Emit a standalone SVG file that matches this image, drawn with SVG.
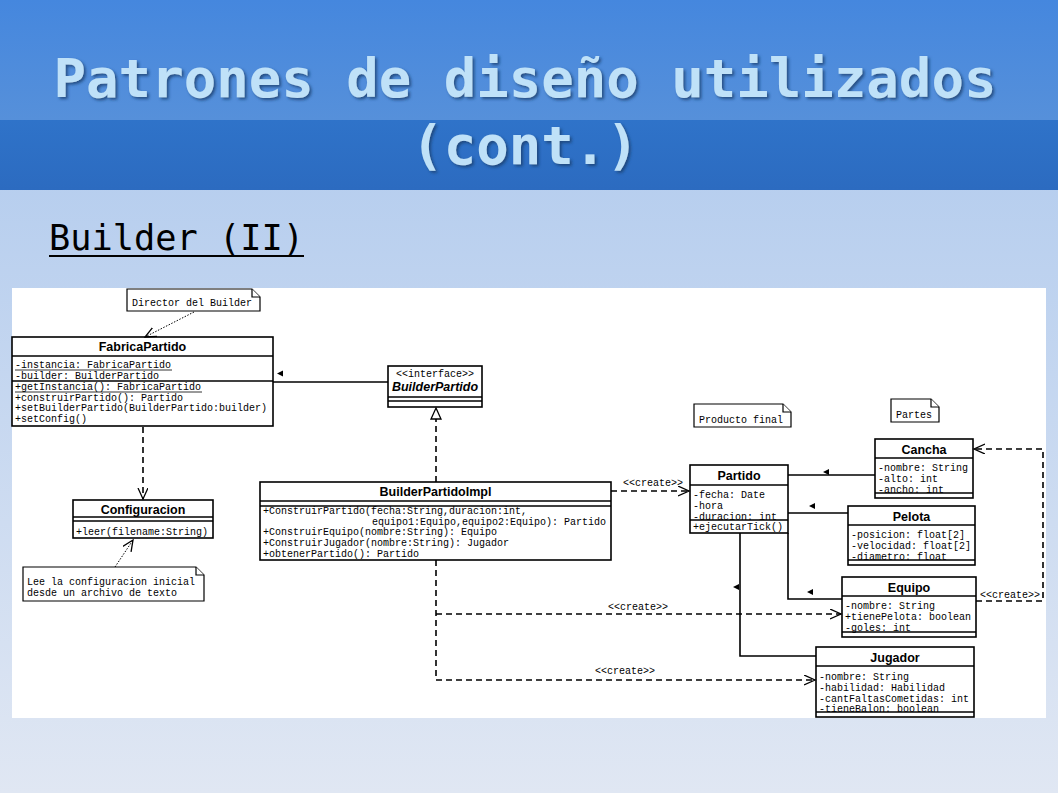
<svg xmlns="http://www.w3.org/2000/svg" width="1058" height="793" viewBox="0 0 1058 793">
<defs>
<linearGradient id="bg" x1="0" y1="0" x2="0" y2="1">
<stop offset="0" stop-color="#abc7ed"/>
<stop offset="1" stop-color="#e0e7f3"/>
</linearGradient>
<linearGradient id="hd1" x1="0" y1="0" x2="0" y2="1">
<stop offset="0" stop-color="#4587de"/>
<stop offset="1" stop-color="#5690da"/>
</linearGradient>
<linearGradient id="hd2" x1="0" y1="0" x2="0" y2="1">
<stop offset="0" stop-color="#2f73c9"/>
<stop offset="1" stop-color="#2c6bc0"/>
</linearGradient>
<filter id="sh" x="-5%" y="-20%" width="110%" height="140%">
<feDropShadow dx="2" dy="2" stdDeviation="1.5" flood-color="#1a3d6e" flood-opacity="0.8"/>
</filter>
<marker id="open" markerUnits="userSpaceOnUse" markerWidth="14" markerHeight="12" refX="11" refY="5" orient="auto">
<path d="M0,0 L11,5 L0,10" fill="none" stroke="#000" stroke-width="1.3"/>
</marker>
</defs>
<style>
.box{fill:#fff;stroke:#000;stroke-width:1.6}
.sep{stroke:#000;stroke-width:1.4}
.ttl{font-family:"Liberation Sans",Arial,sans-serif;font-weight:bold;font-size:12.5px;text-anchor:middle}
.mono{font-family:"Liberation Mono","Courier New",monospace;font-size:10px}
.note{fill:#fff;stroke:#000;stroke-width:1.2}
.ln{fill:none;stroke:#000;stroke-width:1.6}
.dash{fill:none;stroke:#000;stroke-width:1.6;stroke-dasharray:6,4}
.dot{fill:none;stroke:#000;stroke-width:1;stroke-dasharray:1.5,1.5}
.tri{fill:#000}
</style>
<rect x="0" y="0" width="1058" height="793" fill="url(#bg)"/>
<rect x="0" y="0" width="1058" height="120" fill="url(#hd1)"/>
<rect x="0" y="120" width="1058" height="70" fill="url(#hd2)"/>
<g filter="url(#sh)" font-family="'DejaVu Sans Mono',monospace" font-weight="bold" font-size="54" fill="#bfe1f8" text-anchor="middle">
<text x="525" y="97">Patrones de diseño utilizados</text>
<text x="525" y="164">(cont.)</text>
</g>
<text x="49" y="250" font-family="'DejaVu Sans Mono',monospace" font-size="35.3" fill="#000">Builder (II)</text>
<rect x="49" y="255" width="255" height="2" fill="#000"/>
<rect x="12" y="288" width="1034" height="430" fill="#fff"/>

<g id="note-director">
<path class="note" d="M127,289 H252 L260,297 V311 H127 Z"/>
<path class="note" d="M252,289 V297 H260"/>
<text class="mono" x="132" y="306">Director del Builder</text>
</g>

<g id="FabricaPartido">
<rect class="box" x="12" y="337" width="261" height="89"/>
<line class="sep" x1="12" y1="356" x2="273" y2="356"/>
<line class="sep" x1="12" y1="381" x2="273" y2="381"/>
<text class="ttl" x="142.5" y="351">FabricaPartido</text>
<text class="mono" x="15" y="368">-instancia: FabricaPartido</text>
<line x1="15" y1="370" x2="172" y2="370" stroke="#000" stroke-width="0.8"/>
<text class="mono" x="15" y="379">-builder: BuilderPartido</text>
<text class="mono" x="15" y="390">+getInstancia(): FabricaPartido</text>
<line x1="15" y1="392" x2="202" y2="392" stroke="#000" stroke-width="0.8"/>
<text class="mono" x="15" y="401">+construirPartido(): Partido</text>
<text class="mono" x="15" y="411">+setBuilderPartido(BuilderPartido:builder)</text>
<text class="mono" x="15" y="422">+setConfig()</text>
</g>

<g id="BuilderPartido">
<rect class="box" x="388" y="366" width="94" height="41"/>
<line class="sep" x1="388" y1="397" x2="482" y2="397"/>
<line class="sep" x1="388" y1="401" x2="482" y2="401"/>
<text class="mono" x="435" y="377" text-anchor="middle">&lt;&lt;interface&gt;&gt;</text>
<text class="ttl" x="435" y="391" font-style="italic">BuilderPartido</text>
</g>

<g id="BuilderPartidoImpl">
<rect class="box" x="260" y="482" width="351" height="78"/>
<line class="sep" x1="260" y1="501" x2="611" y2="501"/>
<line class="sep" x1="260" y1="506" x2="611" y2="506"/>
<text class="ttl" x="435.5" y="496">BuilderPartidoImpl</text>
<text class="mono" x="263" y="514">+ConstruirPartido(fecha:String,duracion:int,</text>
<text class="mono" x="372" y="524.5">equipo1:Equipo,equipo2:Equipo): Partido</text>
<text class="mono" x="263" y="535">+ConstruirEquipo(nombre:String): Equipo</text>
<text class="mono" x="263" y="546">+ConstruirJugador(nombre:String): Jugador</text>
<text class="mono" x="263" y="557">+obtenerPartido(): Partido</text>
</g>

<g id="Configuracion">
<rect class="box" x="73" y="500" width="140" height="38"/>
<line class="sep" x1="73" y1="517" x2="213" y2="517"/>
<line class="sep" x1="73" y1="521" x2="213" y2="521"/>
<text class="ttl" x="143" y="514">Configuracion</text>
<text class="mono" x="76" y="535">+leer(filename:String)</text>
</g>

<g id="note-config">
<path class="note" d="M23,567 H196 L204,575 V601 H23 Z"/>
<path class="note" d="M196,567 V575 H204"/>
<text class="mono" x="27" y="585">Lee la configuracion inicial</text>
<text class="mono" x="27" y="596">desde un archivo de texto</text>
</g>

<g id="note-producto">
<path class="note" d="M694,404 H783 L791,412 V427 H694 Z"/>
<path class="note" d="M783,404 V412 H791"/>
<text class="mono" x="699" y="423">Producto final</text>
</g>

<g id="note-partes">
<path class="note" d="M891,399 H931 L939,407 V422 H891 Z"/>
<path class="note" d="M931,399 V407 H939"/>
<text class="mono" x="896" y="418">Partes</text>
</g>

<g id="Partido">
<rect class="box" x="690" y="465" width="98" height="68"/>
<line class="sep" x1="690" y1="485" x2="788" y2="485"/>
<line class="sep" x1="690" y1="520" x2="788" y2="520"/>
<text class="ttl" x="739" y="480">Partido</text>
<text class="mono" x="693" y="497.5">-fecha: Date</text>
<text class="mono" x="693" y="508.5">-hora</text>
<text class="mono" x="693" y="519.5">-duracion: int</text>
<text class="mono" x="693" y="530">+ejecutarTick()</text>
</g>

<g id="Cancha">
<rect class="box" x="875" y="439" width="98" height="59"/>
<line class="sep" x1="875" y1="458" x2="973" y2="458"/>
<line class="sep" x1="875" y1="493" x2="973" y2="493"/>
<text class="ttl" x="924" y="454">Cancha</text>
<text class="mono" x="878" y="471">-nombre: String</text>
<text class="mono" x="878" y="482">-alto: int</text>
<text class="mono" x="878" y="493">-ancho: int</text>
</g>

<g id="Pelota">
<rect class="box" x="848" y="506" width="127" height="59"/>
<line class="sep" x1="848" y1="525" x2="975" y2="525"/>
<line class="sep" x1="848" y1="560" x2="975" y2="560"/>
<text class="ttl" x="911.5" y="521">Pelota</text>
<text class="mono" x="851" y="538">-posicion: float[2]</text>
<text class="mono" x="851" y="549">-velocidad: float[2]</text>
<text class="mono" x="851" y="560">-diametro: float</text>
</g>

<g id="Equipo">
<rect class="box" x="842" y="577" width="134" height="60"/>
<line class="sep" x1="842" y1="596" x2="976" y2="596"/>
<line class="sep" x1="842" y1="632" x2="976" y2="632"/>
<text class="ttl" x="909" y="592">Equipo</text>
<text class="mono" x="845" y="609">-nombre: String</text>
<text class="mono" x="845" y="620">+tienePelota: boolean</text>
<text class="mono" x="845" y="631">-goles: int</text>
</g>

<g id="Jugador">
<rect class="box" x="816" y="647" width="158" height="70"/>
<line class="sep" x1="816" y1="666" x2="974" y2="666"/>
<line class="sep" x1="816" y1="712" x2="974" y2="712"/>
<text class="ttl" x="895" y="662">Jugador</text>
<text class="mono" x="819" y="680">-nombre: String</text>
<text class="mono" x="819" y="691">-habilidad: Habilidad</text>
<text class="mono" x="819" y="702">-cantFaltasCometidas: int</text>
<text class="mono" x="819" y="712">-tieneBalon: boolean</text>
</g>

<g id="connectors">
<path class="dot" d="M194,312 L145,337" marker-end="url(#open)"/>
<path class="dot" d="M115,567 L133,540" marker-end="url(#open)"/>
<path class="dash" d="M143,427 V499" marker-end="url(#open)"/>
<path class="ln" d="M273,382 H388"/>
<path class="tri" d="M277,373.5 L283,370.5 V376.5 Z"/>
<path class="dash" d="M436,482 V419"/>
<path d="M436,408 L441,419 H431 Z" fill="#fff" stroke="#000" stroke-width="1.3"/>
<path class="dash" d="M611,491 H689" marker-end="url(#open)"/>
<text class="mono" x="653" y="486" text-anchor="middle">&lt;&lt;create&gt;&gt;</text>
<path class="dash" d="M436,560 V680 H815" marker-end="url(#open)"/>
<path class="dash" d="M436,614 H841" marker-end="url(#open)"/>
<text class="mono" x="638" y="610" text-anchor="middle">&lt;&lt;create&gt;&gt;</text>
<text class="mono" x="625" y="674" text-anchor="middle">&lt;&lt;create&gt;&gt;</text>
<path class="ln" d="M788,475 H875"/>
<path class="tri" d="M823,472 L829,469 V475 Z"/>
<path class="ln" d="M788,513 H848"/>
<path class="tri" d="M809,506 L815,503 V509 Z"/>
<path class="ln" d="M788,533 V599 H842"/>
<path class="tri" d="M807,592 L813,589 V595 Z"/>
<path class="ln" d="M740,533 V656 H816"/>
<path class="tri" d="M733,587 L739,584 V590 Z"/>
<path class="dash" d="M976,601 H1043 V449 H974" marker-end="url(#open)"/>
<text class="mono" x="1010" y="598" text-anchor="middle">&lt;&lt;create&gt;&gt;</text>
</g>
</svg>
